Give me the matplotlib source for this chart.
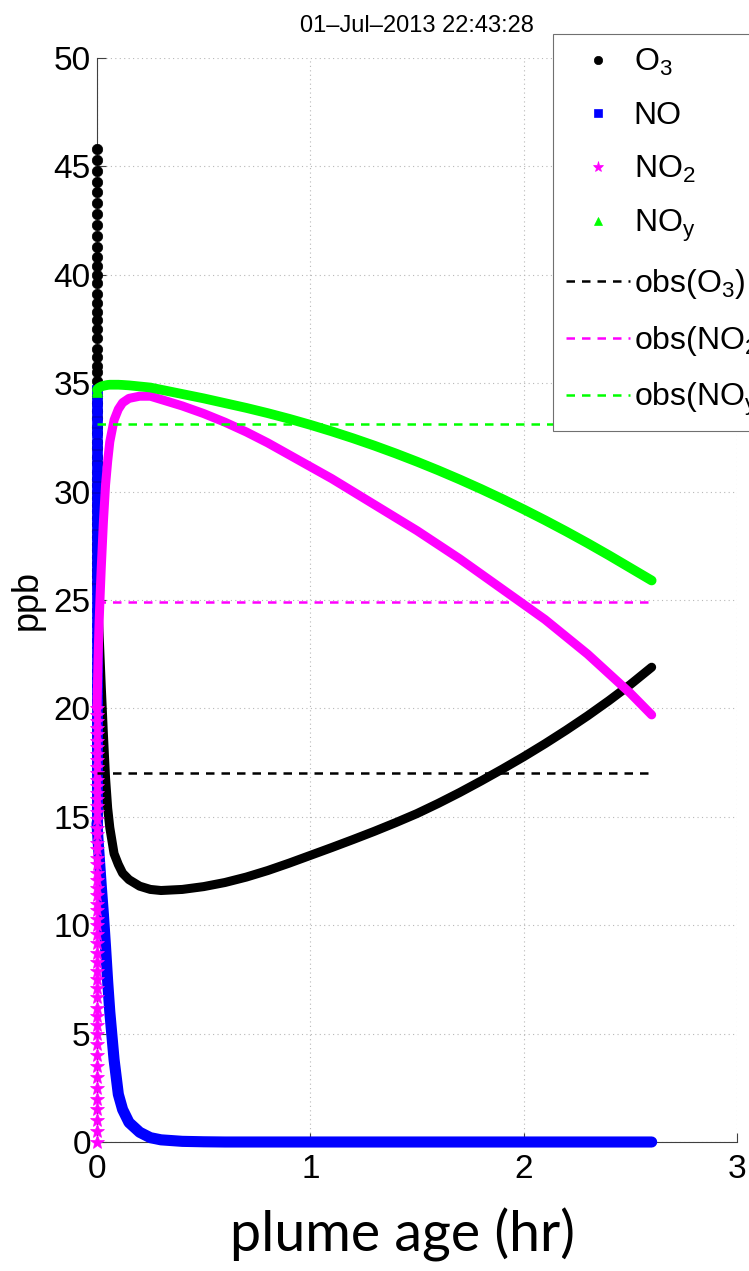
import numpy as np
import matplotlib.pyplot as plt

# first model steps (plume age ~ 0 hr), O3 + NO titration
spin_o3 = [45.8, 45.3, 44.8, 44.3, 43.8, 43.3, 42.8, 42.3, 41.8, 41.3,
           40.8, 40.4, 40.0, 39.6, 39.1, 38.7, 38.3, 37.9, 37.5, 37.1,
           36.6, 36.2, 35.8, 35.5, 35.1, 34.8, 34.4, 34.1, 33.7, 33.4,
           33.0, 32.7, 32.3, 32.0, 31.6, 31.3, 30.9, 30.6, 30.3, 30.0,
           29.7, 29.4, 29.1, 28.8, 28.5, 28.2, 27.9, 27.6, 27.3, 27.0,
           26.7, 26.4, 26.1, 25.8]
spin_no = [34.7, 34.2, 33.7, 33.2, 32.7, 32.2, 31.7, 31.2, 30.7, 30.2,
           29.7, 29.3, 28.9, 28.5, 28.0, 27.6, 27.2, 26.8, 26.4, 26.0,
           25.5, 25.1, 24.7, 24.4, 24.0, 23.7, 23.3, 23.0, 22.6, 22.3,
           21.9, 21.6, 21.2, 20.9, 20.5, 20.2, 19.8, 19.5, 19.2, 18.9,
           18.6, 18.3, 18.0, 17.7, 17.4, 17.1, 16.8, 16.5, 16.2, 15.9,
           15.6, 15.3, 15.0, 14.7]
spin_no2 = [0.0, 0.5, 1.0, 1.5, 2.0, 2.5, 3.0, 3.5, 4.0, 4.5,
            5.0, 5.4, 5.8, 6.2, 6.7, 7.1, 7.5, 7.9, 8.3, 8.7,
            9.2, 9.6, 10.0, 10.3, 10.7, 11.0, 11.4, 11.7, 12.1, 12.4,
            12.8, 13.1, 13.5, 13.8, 14.2, 14.5, 14.9, 15.2, 15.5, 15.8,
            16.1, 16.4, 16.7, 17.0, 17.3, 17.6, 17.9, 18.2, 18.5, 18.8,
            19.1, 19.4, 19.7, 20.0]
spin_noy = [34.6, 34.7]

# model output after the first steps
age_hr = [0.0, 0.005, 0.01, 0.015, 0.02, 0.03, 0.04, 0.05, 0.06, 0.08,
          0.1, 0.12, 0.15, 0.2, 0.25, 0.3, 0.4, 0.5, 0.6, 0.7,
          0.8, 0.9, 1.0, 1.1, 1.2, 1.3, 1.4, 1.5, 1.6, 1.7,
          1.8, 1.9, 2.0, 2.1, 2.2, 2.3, 2.4, 2.5, 2.6]
o3_ppb = [25.8, 24.5, 23.4, 22.2, 21.0, 18.8, 16.8, 15.4, 14.5, 13.3,
          12.8, 12.4, 12.1, 11.8, 11.65, 11.6, 11.65, 11.78, 11.97, 12.22,
          12.52, 12.86, 13.22, 13.58, 13.95, 14.33, 14.73, 15.15, 15.62, 16.12,
          16.65, 17.2, 17.77, 18.37, 19.0, 19.66, 20.36, 21.1, 21.9]
no_ppb = [14.7, 13.9, 13.2, 12.5, 11.8, 10.5, 9.0, 7.4, 6.0, 3.8,
          2.2, 1.5, 0.9, 0.45, 0.2, 0.1, 0.03, 0.01, 0.0, 0.0,
          0.0, 0.0, 0.0, 0.0, 0.0, 0.0, 0.0, 0.0, 0.0, 0.0,
          0.0, 0.0, 0.0, 0.0, 0.0, 0.0, 0.0, 0.0, 0.0]
no2_ppb = [20.0, 22.3, 24.0, 25.3, 26.5, 28.6, 30.3, 31.4, 32.3, 33.3,
           33.8, 34.1, 34.3, 34.4, 34.4, 34.25, 33.95, 33.6, 33.2, 32.75,
           32.25, 31.7, 31.15, 30.6, 30.0, 29.4, 28.8, 28.2, 27.55, 26.9,
           26.2, 25.5, 24.8, 24.1, 23.3, 22.5, 21.6, 20.7, 19.7]
noy_ppb = [34.7, 34.75, 34.8, 34.82, 34.85, 34.88, 34.9, 34.92, 34.93, 34.93,
           34.93, 34.92, 34.9, 34.85, 34.8, 34.7, 34.5, 34.3, 34.08, 33.86,
           33.62, 33.36, 33.08, 32.78, 32.46, 32.12, 31.76, 31.38, 30.98, 30.56,
           30.12, 29.66, 29.18, 28.68, 28.16, 27.62, 27.06, 26.48, 25.9]

# observed values
obs_o3 = 17.0
obs_no2 = 24.9
obs_noy = 33.1
obs_span = [0.0, 2.6]

plt.rcParams['font.family'] = 'Liberation Sans'
plt.rcParams['mathtext.default'] = 'regular'

fig = plt.figure(figsize=(7.49, 12.71), dpi=100)
ax = fig.add_axes([97 / 749, 129 / 1271, 640 / 749, 1084 / 1271])

species = [
    (spin_o3, o3_ppb, 'k', 'o', 7.5, 6.5, 'O$_3$'),
    (spin_no, no_ppb, '#0000ff', 's', 6.5, 8, 'NO'),
    (spin_no2, no2_ppb, '#ff00ff', '*', 10, 6.5, 'NO$_2$'),
    (spin_noy, noy_ppb, '#00ff00', '^', 7.5, 7, 'NO$_y$'),
]
for spin, vals, col, mk, ms, lw, lab in species:
    ax.plot(age_hr, vals, '-', color=col, lw=lw, solid_capstyle='round',
            solid_joinstyle='round', clip_on=False, zorder=3)
    ax.plot(np.full(len(spin), age_hr[0]), spin, mk, color=col, ms=ms,
            mec=col, mew=0.5, ls='none', clip_on=False, zorder=3, label=lab)

obs = [(obs_o3, 'k', 'obs(O$_3$)'),
       (obs_no2, '#ff00ff', 'obs(NO$_2$)'),
       (obs_noy, '#00ff00', 'obs(NO$_y$)')]
for val, col, lab in obs:
    ax.plot(obs_span, [val, val], color=col, lw=1.8, ls=(0, (3.4, 2.8)),
            zorder=4, label=lab)

ax.set_xlim(0, 3)
ax.set_ylim(0, 50)
ax.set_xticks([0, 1, 2, 3])
ax.set_yticks(np.arange(0, 51, 5))
ax.grid(True, color='#b8b8b8', linestyle=(0, (1, 3)), linewidth=0.8)
for s in ['top', 'right']:
    ax.spines[s].set_visible(False)
for s in ['left', 'bottom']:
    ax.spines[s].set_color('#404040')
    ax.spines[s].set_linewidth(0.8)
ax.tick_params(direction='in', length=6.5, width=0.8, color='#404040', labelsize=24)
ax.tick_params(axis='x', pad=9)
ax.tick_params(axis='y', pad=4.5)

ax.set_ylabel('ppb', fontsize=26, labelpad=6)
ax.set_title('01\u2013Jul\u20132013 22:43:28', fontsize=17, pad=19)
fig.text(403 / 749, 20 / 1271, 'plume age (hr)', fontsize=40, family='Lato',
         ha='center', va='baseline')

leg = ax.legend(loc='upper left', bbox_to_anchor=(553 / 749, 1237 / 1271),
                bbox_transform=fig.transFigure, borderaxespad=0, fontsize=23,
                fancybox=False, edgecolor='#707070', framealpha=1,
                handlelength=2.0, handletextpad=0.12, borderpad=0.4,
                labelspacing=0.72, numpoints=1, markerscale=0.8)
leg.get_frame().set_linewidth(0.8)
leg.set_zorder(10)

fig.savefig('out.png', dpi=100)
